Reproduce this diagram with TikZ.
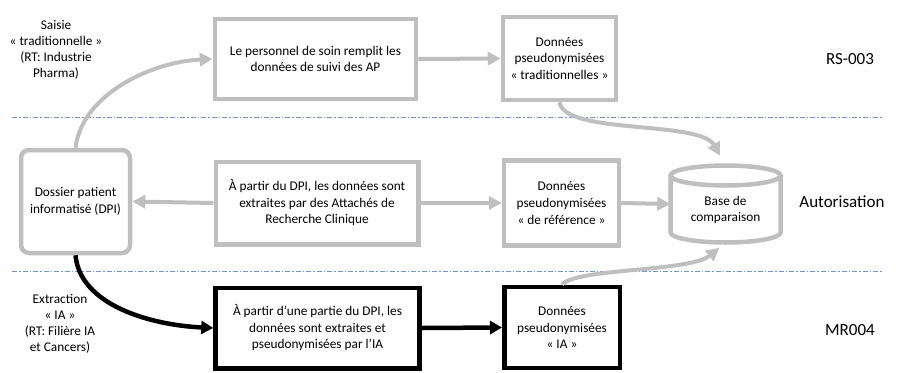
\documentclass[tikz,border=0pt]{standalone}
\usepackage{fontspec}
\setmainfont{Carlito}
\usetikzlibrary{arrows.meta}
\definecolor{boxgray}{HTML}{BFBFBF}
\definecolor{dashblue}{HTML}{6F95D8}
\begin{document}
\begin{tikzpicture}[x=1pt,y=-1pt,
  boxtext/.style={align=center, font=\fontsize{13.3}{16.5}\selectfont, inner sep=0pt},
  graybox/.style={boxtext, draw=boxgray, line width=4.5pt},
  blackbox/.style={boxtext, draw=black, line width=4.5pt},
  sidelabel/.style={align=center, font=\fontsize{13.3}{16}\selectfont, inner sep=0pt},
  reglabel/.style={font=\fontsize{17}{20}\selectfont, inner sep=0pt},
  sep/.style={draw=dashblue, line width=1pt, dash pattern=on 5pt off 2pt on 1.5pt off 2pt},
  grayarrow/.style={draw=boxgray, line width=4pt, -{Triangle[length=13pt,width=13pt]}},
  blackarrow/.style={draw=black, line width=4.5pt, -{Triangle[length=12pt,width=13pt]}},
  cylline/.style={draw=boxgray, line width=4.5pt}
]
\useasboundingbox (0,0) rectangle (899,372);

% separators
\coordinate (s1a) at (12,117);
\coordinate (s1b) at (882,117);
\coordinate (s2a) at (12,271);
\coordinate (s2b) at (882,271);
\draw[sep] (s1a) -- (s1b);
\draw[sep] (s2a) -- (s2b);

% boxes
\node[graybox, minimum width=201pt, minimum height=80pt] (box1) at (315.5,59) {Le personnel de soin remplit les\\données de suivi des AP};
\node[graybox, minimum width=113pt, minimum height=83pt] (box2) at (559.5,58.5) {Données\\pseudonymisées\\«~traditionnelles~»};
\node[graybox, rounded corners=8pt, minimum width=109pt, minimum height=103pt] (dpi) at (75.5,201.5) {Dossier patient\\informatisé (DPI)};
\node[graybox, minimum width=202.5pt, minimum height=82.5pt] (arc) at (317,203) {À partir du DPI, les données sont\\extraites par des Attachés de\\Recherche Clinique};
\node[graybox, minimum width=115pt, minimum height=85pt] (ref) at (561.5,203) {Données\\pseudonymisées\\«~de référence~»};
\node[blackbox, minimum width=204pt, minimum height=80.5pt] (ai) at (317.5,328) {À partir d’une partie du DPI, les\\données sont extraites et\\pseudonymisées par l’IA};
\node[blackbox, minimum width=115.5pt, minimum height=81pt] (dia) at (562,327.5) {Données\\pseudonymisées\\«~IA~»};

% cylinder
\node[minimum width=110pt, minimum height=77pt, inner sep=0pt] (cyl) at (725.5,204) {};
\draw[cylline] (670.5,175.5) -- (670.5,232.5) arc[start angle=180, end angle=360, x radius=55pt, y radius=10pt] -- (780.5,175.5);
\draw[cylline] (725.5,175.5) ellipse[x radius=55pt, y radius=10pt];
\node[boxtext] (cyltext) at (725.5,210) {Base de\\comparaison};

% side labels
\node[sidelabel] (saisie) at (56,50) {Saisie\\«~traditionnelle~»\\(RT: Industrie\\Pharma)};
\node[sidelabel] (extr) at (60,324) {Extraction\\«~IA~»\\(RT: Filière IA\\et Cancers)};
\node[reglabel] (rs) at (850,59) {RS-003};
\node[reglabel] (auto) at (842,202) {Autorisation};
\node[reglabel] (mr) at (850,330) {MR004};

% connectors
\draw[grayarrow] (dpi.north) .. controls (82,95) and (150,62) .. (box1.west);
\draw[grayarrow] (box1.east) -- (box2.west);
\draw[grayarrow, shorten >=11pt] (box2.south) .. controls (564.5,135) and (700,120) .. (cyl.north);
\draw[grayarrow] (arc.west) -- (dpi.east);
\draw[grayarrow] (arc.east) -- (ref.west);
\draw[grayarrow] (ref.east) -- (cyl.west);
\draw[grayarrow, shorten >=8pt] (dia.north) .. controls (575,268) and (690,272) .. (cyl.south);
\draw[blackarrow] (dpi.south) .. controls (80,305) and (150,325) .. (ai.west);
\draw[blackarrow] (ai.east) -- (dia.west);
\end{tikzpicture}
\end{document}
